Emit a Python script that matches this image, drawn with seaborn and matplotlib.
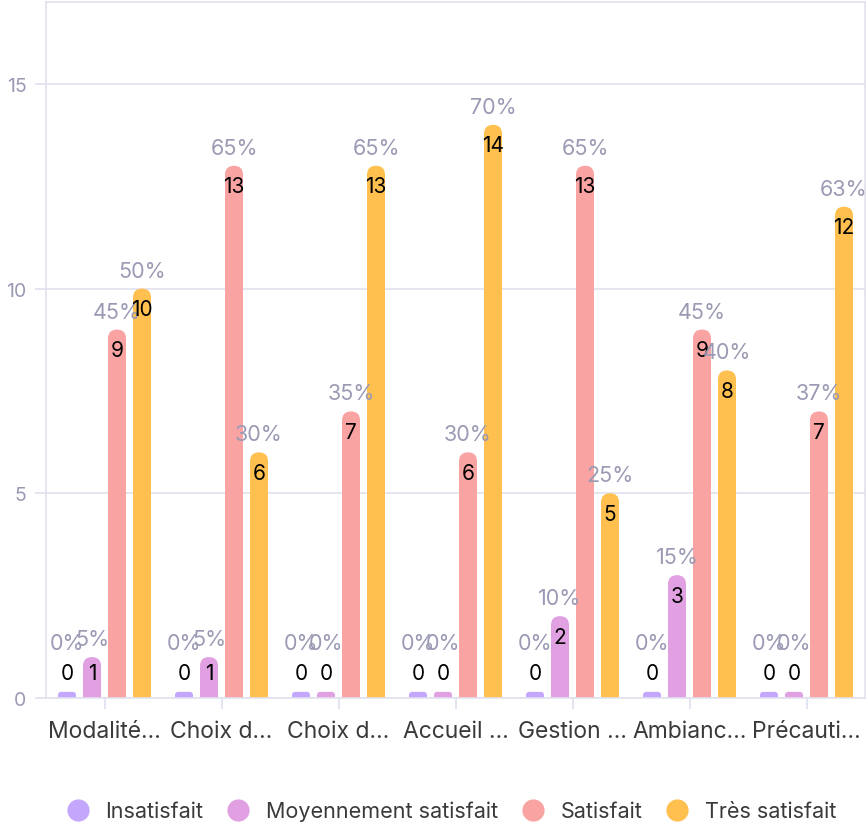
import numpy as np
import pandas as pd
import matplotlib.pyplot as plt
import seaborn as sns
from matplotlib.patches import FancyBboxPatch
from matplotlib.lines import Line2D

# =========================
# DATA
# =========================
categories = ["Modalité…", "Choix d…", "Choix d…", "Accueil …",
              "Gestion …", "Ambianc…", "Précauti…"]
series = ["Insatisfait", "Moyennement satisfait", "Satisfait", "Très satisfait"]

insatisfait = [0, 0, 0, 0, 0, 0, 0]
moyen = [1, 1, 0, 0, 2, 3, 0]
satisfait = [9, 13, 7, 6, 13, 9, 7]
tres_satisfait = [10, 6, 13, 14, 5, 8, 12]

colors = ["#c4a6fc", "#e1a0e1", "#faa3a3", "#ffc04f"]

# =========================
# STYLE
# =========================
GRID = "#e1e2ee"
MUTED = "#9a9ab4"
sns.set_theme(style="white")
plt.rcParams["font.family"] = ["Inter", "DejaVu Sans"]

values = [insatisfait, moyen, satisfait, tres_satisfait]
totals = np.sum(values, axis=0)

df = pd.DataFrame({
    "pos": np.tile(np.arange(len(categories)), len(series)),
    "serie": np.repeat(series, len(categories)),
    "count": np.concatenate(values),
})

fig = plt.figure(figsize=(8.68, 8.29), dpi=100)
ax = fig.add_axes([46 / 868, 1 - 699 / 829, 819 / 868, 696 / 829])

sns.barplot(data=df, x="pos", y="count", hue="serie", hue_order=series,
            palette=colors, saturation=1, width=0.855, gap=0.28,
            legend=False, ax=ax)

ax.set_xlim(-0.5, len(categories) - 0.5)
ax.set_ylim(0, 17)

# px per data unit, to keep the rounded tops circular
ax_w = 819 / (len(categories))
ax_h = 696 / 17
asp = ax_w / ax_h

# =========================
# ROUNDED BARS + LABELS
# =========================
for k, cont in enumerate(ax.containers):
    for j, bar in enumerate(cont):
        x, w, h = bar.get_x(), bar.get_width(), bar.get_height()
        col = bar.get_facecolor()
        bar.set_visible(False)
        if h > 0:
            r = w / 2
            top = h
        else:
            r = w / 2 * 0.35
            top = 0.15
        patch = FancyBboxPatch((x, -r * asp), w, top + r * asp,
                               boxstyle=f"round,pad=0,rounding_size={r}",
                               mutation_aspect=asp, facecolor=col,
                               edgecolor="none", zorder=2)
        ax.add_patch(patch)
        xc = x + w / 2
        pct = round(values[k][j] / totals[j] * 100)
        ax.text(xc, max(h, 1.1) - 0.5, f"{values[k][j]}", ha="center",
                va="center", fontsize=15, color="black", zorder=3)
        ax.text(xc, max(h, 0.9) + 0.44, f"{pct}%", ha="center",
                va="center", fontsize=15.5, color=MUTED, zorder=3)

# =========================
# AXES
# =========================
ax.set_yticks([0, 5, 10, 15])
ax.set_xticks(range(len(categories)))
ax.set_xticklabels(categories)
ax.set_xlabel("")
ax.set_ylabel("")
ax.grid(axis="y", color=GRID, linewidth=1.2, zorder=0)
ax.set_axisbelow(True)
for s in ax.spines.values():
    s.set_color(GRID)
    s.set_linewidth(1.2)
ax.tick_params(axis="y", length=8, color=GRID, labelcolor=MUTED,
               labelsize=14, pad=6, left=True)
ax.tick_params(axis="x", length=8, color=GRID, labelcolor="#3a3a3a",
               labelsize=16.5, pad=8, bottom=True)

handles = [Line2D([], [], marker="o", linestyle="", markersize=16,
                  markerfacecolor=c, markeredgecolor="none") for c in colors]
fig.legend(handles, series, loc="lower center", ncol=4, frameon=False,
           bbox_to_anchor=(0.514, -0.015), fontsize=15.5, handletextpad=0.3,
           columnspacing=0.6, labelcolor="#3a3a3a")

fig.savefig("out.png", dpi=100)
